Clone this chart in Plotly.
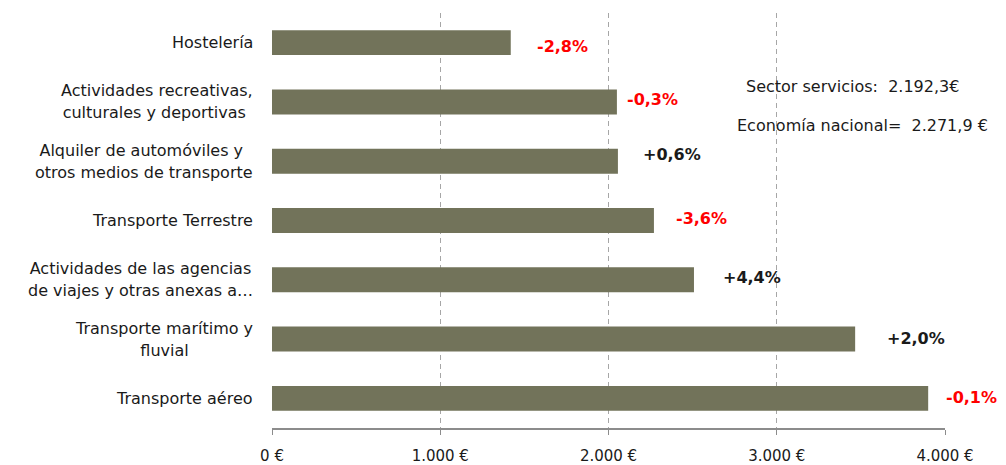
import plotly.graph_objects as go

# ---- data ----
categories = [
    "Hostelería",
    "Actividades recreativas,<br>culturales y deportivas ",
    "Alquiler de automóviles y <br>otros medios de transporte",
    "Transporte Terrestre",
    "Actividades de las agencias<br>de viajes y otras anexas a…",
    "Transporte marítimo y<br>fluvial",
    "Transporte aéreo",
]
values = [1419, 2050, 2056, 2270, 2508, 3466, 3900]
pct_labels = ["-2,8%", "-0,3%", "+0,6%", "-3,6%", "+4,4%", "+2,0%", "-0,1%"]
pct_negative = [True, True, False, True, False, False, True]
tick_vals = [0, 1000, 2000, 3000, 4000]
tick_text = ["0 €", "1.000 €", "2.000 €", "3.000 €", "4.000 €"]
note_sector = "Sector servicios:  2.192,3€"
note_nacional = "Economía nacional=  2.271,9 €"

# ---- layout helpers (pixel offsets for label placement) ----
label_gap = [24, 8, 23, 20, 27, 30, 16]
label_dy = [-4, 2, 7, 2, 2, 1, 1]

FONT = "DejaVu Sans, Verdana, sans-serif"
BAR = "#72735A"
RED = "#FF0000"
TXT = "#1A1A1A"

fig = go.Figure()
fig.add_trace(go.Bar(
    x=values, y=categories, orientation="h",
    marker=dict(color=BAR, line=dict(width=0)),
    width=0.42, hoverinfo="skip",
))

annotations = []
# category labels (centered lines, right-anchored block)
for cat in categories:
    lines = cat.split("<br>")
    txt = "<br>".join(f"<span style='font-size:16px'>{ln}</span>" for ln in lines)
    annotations.append(dict(
        x=0, xref="paper", y=cat, yref="y", text=txt, showarrow=False,
        xanchor="right", yanchor="middle", align="center", xshift=-17,
        font=dict(family=FONT, size=17.3, color=TXT),
    ))
# percentage labels
for cat, v, lab, neg, gap, dy in zip(categories, values, pct_labels, pct_negative, label_gap, label_dy):
    annotations.append(dict(
        x=v, xref="x", y=cat, yref="y", text=f"<b>{lab}</b>", showarrow=False,
        xanchor="left", yanchor="middle", xshift=gap, yshift=dy,
        font=dict(family=FONT, size=16, color=RED if neg else TXT),
    ))
# notes
annotations.append(dict(
    x=0.862, xref="paper", y=0.822, yref="paper", text=note_sector, showarrow=False,
    xanchor="center", yanchor="middle", font=dict(family=FONT, size=16, color=TXT),
))
annotations.append(dict(
    x=0.877, xref="paper", y=0.730, yref="paper", text=note_nacional, showarrow=False,
    xanchor="center", yanchor="middle", font=dict(family=FONT, size=16, color=TXT),
))

# page body has an 8px default margin, so the figure is sized to fit the window
fig.update_layout(
    width=998, height=457,
    margin=dict(l=264, r=61, t=5, b=37, autoexpand=False),
    paper_bgcolor="white", plot_bgcolor="white",
    showlegend=False,
    font=dict(family=FONT, size=15, color=TXT),
    annotations=annotations,
)
fig.update_xaxes(
    range=[0, 4000], tickvals=tick_vals, ticktext=tick_text,
    showgrid=True, gridcolor="#A6A6A6", gridwidth=1, griddash="5px,4px",
    zeroline=False, showline=True, linecolor="#8C8C8C", linewidth=1.5,
    ticks="outside", ticklen=5, tickcolor="#8C8C8C", tickwidth=1,
    ticklabelstandoff=8, automargin=False,
    tickfont=dict(family=FONT, size=15, color=TXT),
)
fig.update_yaxes(
    categoryorder="array", categoryarray=categories, autorange="reversed",
    showticklabels=False, showgrid=False, zeroline=False, showline=False, ticks="",
    automargin=False,
)

fig.write_html("out.html")
